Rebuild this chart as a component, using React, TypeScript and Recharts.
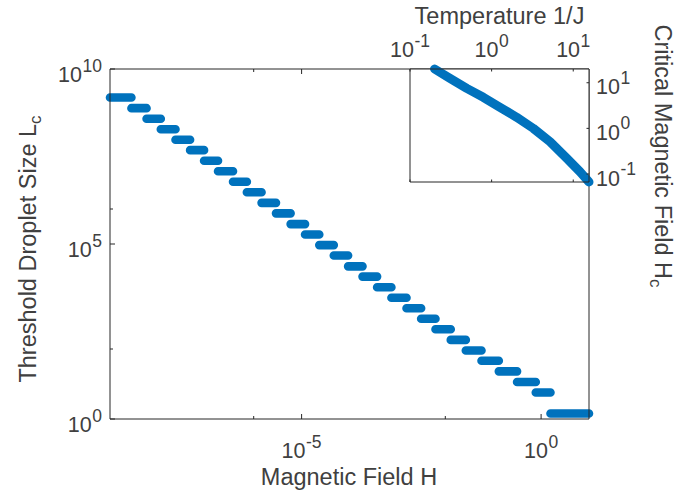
import React from 'react';
import { LineChart, Line, XAxis, YAxis, CartesianGrid } from 'recharts';

// main plot: threshold droplet size vs magnetic field (staircase)
const stepEdges = [
  1e-9, 2.8e-9, 5.8e-9, 1.15e-8, 2.33e-8, 4.7e-8, 9.2e-8, 1.8e-7, 3.7e-7, 7.2e-7,
  1.46e-6, 2.92e-6, 5.9e-6, 1.18e-5, 2.34e-5, 4.7e-5, 9.35e-5, 1.87e-4, 3.77e-4, 7.5e-4,
  1.55e-3, 3.13e-3, 6.24e-3, 1.3e-2, 2.68e-2, 5.7e-2, 0.131, 0.315, 0.774, 1.57, 10,
];
const stepSize = [
  1.53e9, 7.6e8, 3.8e8, 1.9e8, 9.5e7, 4.8e7, 2.4e7, 1.2e7, 6.0e6, 3.0e6,
  1.5e6, 7.5e5, 3.7e5, 1.87e5, 9.3e4, 4.7e4, 2.3e4, 1.17e4, 5.8e3, 2.9e3,
  1.46e3, 730, 365, 182, 91, 46, 23, 11.4, 5.7, 1.43,
];

// inset: critical field vs temperature
const tempT = [0.2, 0.309, 0.496, 0.791, 1.267, 2.03, 3.24, 5.2, 8.32, 12.1, 15.6];
const critH = [20, 12.5, 7.54, 4.79, 2.89, 1.75, 1.0, 0.51, 0.221, 0.112, 0.067];

const mainXTicks = [1e-6, 1e-5, 1e-2, 1];
const mainXMajor = [1e-5, 1];
const mainYTicks = [1, 1e2, 1e5, 1e6, 1e10];
const mainYMajor = [1, 1e5, 1e10];
const insetTicks = [0.1, 1, 10];

const BLUE = '#0072BD';
const INK = '#262626';
const TXT = '#404040';
const FONT = '"Liberation Sans", Arial, Helvetica, sans-serif';
const TICK_FS = 21.5;
const SUP_FS = 17.5;
const TITLE_FS = 23.5;

const logExp = (v: number) => Math.round(Math.log10(v));

function PowerLabel({ x, y, v, anchor }: { x: number; y: number; v: number; anchor: 'start' | 'middle' | 'end' }) {
  return (
    <text x={x} y={y} textAnchor={anchor} fill={TXT} fontSize={TICK_FS} fontFamily={FONT}>
      10
      <tspan dx={0.5} dy={-10.5} fontSize={SUP_FS}>
        {String(logExp(v))}
      </tspan>
    </text>
  );
}

type Side = 'bottom' | 'top' | 'left' | 'right';

const makeTick = (side: Side, major: number[], labels: boolean, majorLen: number, minorLen: number) =>
  (props: any) => {
    const { x, y, payload } = props;
    const v = payload.value as number;
    const isMajor = major.some((m) => logExp(m) === logExp(v));
    const len = isMajor ? majorLen : minorLen;
    const show = labels && isMajor;
    let line = null;
    let label = null;
    if (side === 'bottom') {
      line = <line x1={x} x2={x} y1={y} y2={y - len} stroke={INK} />;
      if (show) label = <PowerLabel x={x} y={y + 39} v={v} anchor="middle" />;
    } else if (side === 'top') {
      line = <line x1={x} x2={x} y1={y} y2={y + len} stroke={INK} />;
      if (show) label = <PowerLabel x={x} y={y - 12} v={v} anchor="middle" />;
    } else if (side === 'left') {
      line = <line x1={x} x2={x + len} y1={y} y2={y} stroke={INK} />;
      if (show) label = <PowerLabel x={x - 8} y={y + 13} v={v} anchor="end" />;
    } else {
      line = <line x1={x} x2={x - len} y1={y} y2={y} stroke={INK} />;
      if (show) label = <PowerLabel x={x + 7} y={y + 11.5} v={v} anchor="start" />;
    }
    return (
      <g>
        {line}
        {label}
      </g>
    );
  };

const buildSteps = () => {
  const rows: { h: number; l: number | null }[] = [];
  stepSize.forEach((l, k) => {
    rows.push({ h: stepEdges[k], l });
    rows.push({ h: stepEdges[k + 1], l });
    if (k < stepSize.length - 1) rows.push({ h: stepEdges[k + 1], l: null });
  });
  return rows;
};

const axisStroke = { stroke: INK, strokeWidth: 1 };

export default function App() {
  const steps = buildSteps();
  const inset = tempT.map((t, i) => ({ t, hc: critH[i] }));

  return (
    <div style={{ position: 'absolute', left: 0, top: 0, width: 685, height: 493, background: '#fff' }}>
      <div style={{ position: 'absolute', left: 0, top: 0 }}>
        <LineChart width={685} height={493} data={steps} margin={{ top: 0, right: 0, bottom: 0, left: 0 }}>
          <XAxis
            xAxisId="b"
            dataKey="h"
            type="number"
            scale="log"
            domain={[1e-9, 10]}
            ticks={mainXTicks}
            interval={0}
            orientation="bottom"
            height={74}
            tickSize={0}
            tickMargin={0}
            tickLine={false}
            axisLine={axisStroke}
            tick={makeTick('bottom', mainXMajor, true, 5, 3)}
            label={{
              content: () => (
                <text x={349} y={485} textAnchor="middle" fill={TXT} fontSize={TITLE_FS} fontFamily={FONT}>
                  Magnetic Field H
                </text>
              ),
            }}
          />
          <XAxis
            xAxisId="t"
            dataKey="h"
            type="number"
            scale="log"
            domain={[1e-9, 10]}
            ticks={mainXTicks}
            interval={0}
            orientation="top"
            height={69}
            tickSize={0}
            tickMargin={0}
            tickLine={false}
            axisLine={axisStroke}
            tick={makeTick('top', mainXMajor, false, 5, 3)}
          />
          <YAxis
            yAxisId="l"
            type="number"
            scale="log"
            domain={[1, 1e10]}
            ticks={mainYTicks}
            interval={0}
            width={110}
            tickSize={0}
            tickMargin={0}
            tickLine={false}
            axisLine={axisStroke}
            tick={makeTick('left', mainYMajor, true, 5, 3)}
            label={{
              content: () => (
                <text
                  x={36}
                  y={249}
                  transform="rotate(-90 36 249)"
                  textAnchor="middle"
                  fill={TXT}
                  fontSize={TITLE_FS}
                  fontFamily={FONT}
                >
                  Threshold Droplet Size L
                  <tspan dy={5} fontSize={17}>
                    c
                  </tspan>
                </text>
              ),
            }}
          />
          <YAxis
            yAxisId="r"
            orientation="right"
            type="number"
            scale="log"
            domain={[1, 1e10]}
            ticks={mainYTicks}
            interval={0}
            width={96}
            tickSize={0}
            tickMargin={0}
            tickLine={false}
            axisLine={axisStroke}
            tick={makeTick('right', mainYMajor, false, 5, 3)}
          />
          <Line
            xAxisId="b"
            yAxisId="l"
            dataKey="l"
            type="linear"
            stroke={BLUE}
            strokeWidth={8.6}
            strokeLinecap="round"
            strokeLinejoin="round"
            dot={false}
            activeDot={false}
            isAnimationActive={false}
          />
        </LineChart>
      </div>

      <div style={{ position: 'absolute', left: 0, top: 0 }}>
        <LineChart width={685} height={493} data={inset} margin={{ top: 0, right: 0, bottom: 0, left: 0 }}>
          <CartesianGrid xAxisId="ib" yAxisId="il" fill="#fff" stroke="none" horizontal={false} vertical={false} />
          <XAxis
            xAxisId="ib"
            dataKey="t"
            type="number"
            scale="log"
            domain={[0.1, 15.6]}
            ticks={insetTicks}
            interval={0}
            orientation="bottom"
            height={311}
            tickSize={0}
            tickMargin={0}
            tickLine={false}
            axisLine={axisStroke}
            tick={makeTick('bottom', insetTicks, false, 2.5, 2.5)}
          />
          <XAxis
            xAxisId="it"
            dataKey="t"
            type="number"
            scale="log"
            domain={[0.1, 15.6]}
            ticks={insetTicks}
            interval={0}
            orientation="top"
            height={69}
            tickSize={0}
            tickMargin={0}
            tickLine={false}
            axisLine={axisStroke}
            tick={makeTick('top', insetTicks, true, 2.5, 2.5)}
            label={{
              content: () => (
                <text x={499.5} y={23.5} textAnchor="middle" fill={TXT} fontSize={TITLE_FS} fontFamily={FONT}>
                  Temperature 1/J
                </text>
              ),
            }}
          />
          <YAxis
            yAxisId="il"
            type="number"
            scale="log"
            domain={[0.0668, 20]}
            ticks={insetTicks}
            interval={0}
            width={410}
            tickSize={0}
            tickMargin={0}
            tickLine={false}
            axisLine={axisStroke}
            tick={makeTick('left', insetTicks, false, 2.5, 2.5)}
          />
          <YAxis
            yAxisId="ir"
            orientation="right"
            type="number"
            scale="log"
            domain={[0.0668, 20]}
            ticks={insetTicks}
            interval={0}
            width={96}
            tickSize={0}
            tickMargin={0}
            tickLine={false}
            axisLine={axisStroke}
            tick={makeTick('right', insetTicks, true, 2.5, 2.5)}
            label={{
              content: () => (
                <text
                  x={655}
                  y={156}
                  transform="rotate(90 655 156)"
                  textAnchor="middle"
                  fill={TXT}
                  fontSize={TITLE_FS}
                  fontFamily={FONT}
                >
                  Critical Magnetic Field H
                  <tspan dy={5} fontSize={17}>
                    c
                  </tspan>
                </text>
              ),
            }}
          />
          <Line
            xAxisId="it"
            yAxisId="ir"
            dataKey="hc"
            type="linear"
            stroke={BLUE}
            strokeWidth={9}
            strokeLinecap="round"
            strokeLinejoin="round"
            dot={false}
            activeDot={false}
            isAnimationActive={false}
          />
        </LineChart>
      </div>
    </div>
  );
}
